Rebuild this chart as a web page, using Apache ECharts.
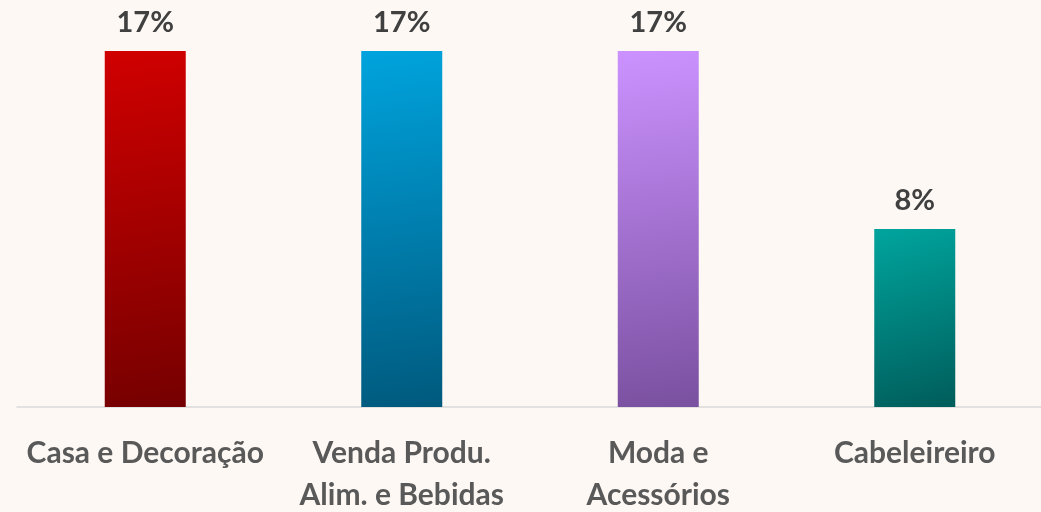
<!DOCTYPE html>
<html><head><meta charset="utf-8">
<script src="https://cdn.jsdelivr.net/npm/echarts@6/dist/echarts.min.js"></script>
<style>html,body{margin:0;padding:0;background:#FDF8F4;}#c{width:1041px;height:512px;}</style>
</head><body><div id="c"></div>
<script>
const categories = ['Casa e Decoração', 'Venda Produ.\nAlim. e Bebidas', 'Moda e\nAcessórios', 'Cabeleireiro'];
const values = [16.67, 16.67, 16.67, 8.33];
const valueLabels = ['17%', '17%', '17%', '8%'];
const topColors = ['#D00000', '#00A3DD', '#CB92FF', '#00A39C'];
const bottomColors = ['#760000', '#005A7E', '#7A50A0', '#005E5C'];

const chart = echarts.init(document.getElementById('c'));
chart.setOption({
  backgroundColor: '#FDF8F4',
  animation: false,
  grid: {left: 17, right: -2, top: 51, bottom: 105, containLabel: false, outerBoundsMode: 'none'},
  xAxis: {
    type: 'category', data: categories,
    axisLine: {lineStyle: {color: '#D9D9D9', width: 1.5}},
    axisTick: {show: false},
    axisLabel: {fontFamily: 'Lato', fontWeight: 'bold', fontSize: 30, color: '#595959', margin: 25, lineHeight: 42, interval: 0}
  },
  yAxis: {type: 'value', min: 0, max: 16.67, show: false, splitLine: {show: false}},
  series: [{
    type: 'bar', barWidth: 81,
    data: values.map((v, i) => ({
      value: v,
      itemStyle: {color: new echarts.graphic.LinearGradient(0.2, 0, 0.8, 1, [
        {offset: 0, color: topColors[i]}, {offset: 1, color: bottomColors[i]}])}
    })),
    label: {
      show: true, position: 'top', distance: 14,
      formatter: p => valueLabels[p.dataIndex],
      fontFamily: 'Lato', fontWeight: 'bold', fontSize: 29, color: '#404040'
    }
  }]
});
</script></body></html>
